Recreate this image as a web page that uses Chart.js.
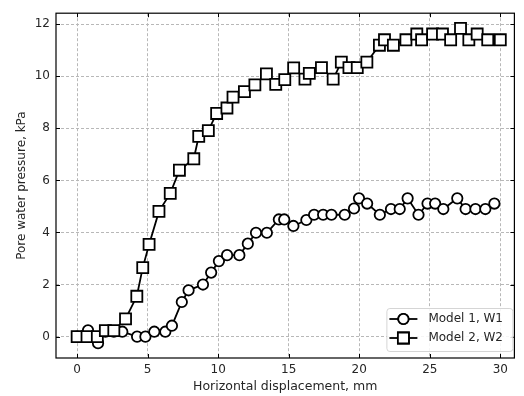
<!DOCTYPE html>
<html>
<head>
<meta charset="utf-8">
<script src="https://cdn.jsdelivr.net/npm/chart.js@4.4.0/dist/chart.umd.min.js"></script>
<style>
  html, body { margin: 0; padding: 0; background: #fff; }
  #wrap { width: 524px; height: 396px; }
</style>
</head>
<body>
<div id="wrap"><canvas id="chart" width="524" height="396"></canvas></div>
<script>
// Model 1, W1 (circles)
const w1X = [0, 0.77, 1.48, 2.0, 2.6, 3.2, 4.25, 4.84, 5.47, 6.25, 6.72, 7.42, 7.9, 8.92, 9.5, 10.05, 10.63, 11.5, 12.1, 12.68, 13.45, 14.3, 14.68, 15.33, 16.25, 16.8, 17.44, 18.03, 18.97, 19.63, 19.98, 20.56, 21.46, 22.25, 22.87, 23.43, 24.2, 24.84, 25.38, 25.96, 26.95, 27.54, 28.24, 28.94, 29.58];
const w1Y = [0, 0.24, -0.25, 0.19, 0.19, 0.19, 0, 0, 0.19, 0.19, 0.42, 1.33, 1.78, 2.0, 2.46, 2.9, 3.13, 3.13, 3.57, 3.99, 3.99, 4.5, 4.5, 4.25, 4.48, 4.68, 4.68, 4.68, 4.68, 4.92, 5.31, 5.11, 4.68, 4.9, 4.9, 5.31, 4.68, 5.11, 5.11, 4.9, 5.31, 4.9, 4.9, 4.9, 5.11];

// Model 2, W2 (squares)
const w2X = [0, 0.7, 1.43, 2.0, 2.6, 3.43, 4.23, 4.65, 5.1, 5.8, 6.6, 7.25, 8.27, 8.62, 9.3, 9.89, 10.62, 11.05, 11.86, 12.6, 13.42, 14.08, 14.72, 15.35, 16.15, 16.46, 17.32, 18.15, 18.73, 19.27, 19.86, 20.54, 21.43, 21.79, 22.42, 23.31, 24.08, 24.42, 25.2, 25.9, 26.48, 27.18, 27.77, 28.36, 29.11, 30.0];
const w2Y = [0, 0, 0, 0.23, 0.23, 0.68, 1.55, 2.65, 3.54, 4.81, 5.5, 6.39, 6.83, 7.69, 7.91, 8.57, 8.78, 9.2, 9.41, 9.67, 10.09, 9.69, 9.87, 10.32, 9.89, 10.11, 10.33, 9.89, 10.54, 10.33, 10.33, 10.54, 11.19, 11.4, 11.19, 11.4, 11.62, 11.4, 11.62, 11.62, 11.4, 11.84, 11.4, 11.62, 11.4, 11.4];

const xTicks = [0, 5, 10, 15, 20, 25, 30];
const yTicks = [0, 2, 4, 6, 8, 10, 12];

const seriesLabels = ['Model 1, W1', 'Model 2, W2'];
const textColor = '#262626';
const fontFamily = '"DejaVu Sans", sans-serif';

function toPoints(xs, ys) {
    return xs.map((x, i) => ({ x: x, y: ys[i] }));
}

// box around the plot and inward tick marks
const frame = {
    id: 'frame',
    afterDraw(chart) {
        const ctx = chart.ctx;
        const a = chart.chartArea;
        const xs = chart.scales.x, ys = chart.scales.y;
        ctx.save();
        ctx.strokeStyle = '#000';
        ctx.lineWidth = 1;
        xs.ticks.forEach(t => {
            const px = Math.round(xs.getPixelForValue(t.value)) + 0.5;
            ctx.beginPath();
            ctx.moveTo(px, a.bottom); ctx.lineTo(px, a.bottom - 4);
            ctx.moveTo(px, a.top); ctx.lineTo(px, a.top + 4);
            ctx.stroke();
        });
        ys.ticks.forEach(t => {
            const py = Math.round(ys.getPixelForValue(t.value)) + 0.5;
            ctx.beginPath();
            ctx.moveTo(a.left, py); ctx.lineTo(a.left + 4, py);
            ctx.moveTo(a.right, py); ctx.lineTo(a.right - 4, py);
            ctx.stroke();
        });
        ctx.lineWidth = 1.2;
        ctx.strokeRect(a.left, a.top, a.right - a.left, a.bottom - a.top);
        ctx.restore();
    }
};

// legend drawn inside the plot, lower right
const innerLegend = {
    id: 'innerLegend',
    afterDraw(chart) {
        const ctx = chart.ctx;
        const a = chart.chartArea;
        const w = 126, h = 43;
        const bx = a.right - w - 2, by = a.bottom - h - 7;
        ctx.save();
        ctx.fillStyle = 'rgba(255,255,255,0.85)';
        ctx.strokeStyle = '#d5d5d5';
        ctx.lineWidth = 1;
        ctx.beginPath();
        ctx.roundRect(bx + 0.5, by + 0.5, w, h, 3);
        ctx.fill();
        ctx.stroke();
        ctx.font = '12px ' + fontFamily;
        ctx.textBaseline = 'middle';
        chart.data.datasets.forEach((ds, i) => {
            const cy = by + 11 + i * 19;
            ctx.strokeStyle = '#000';
            ctx.lineWidth = 1.8;
            ctx.beginPath();
            ctx.moveTo(bx + 3, cy); ctx.lineTo(bx + 31, cy);
            ctx.stroke();
            ctx.fillStyle = '#fff';
            Chart.helpers.drawPoint(ctx, {
                pointStyle: ds.pointStyle,
                radius: ds.pointRadius,
                borderWidth: ds.pointBorderWidth
            }, bx + 17, cy);
            ctx.fill();
            ctx.stroke();
            ctx.fillStyle = textColor;
            ctx.fillText(ds.label, bx + 42, cy);
        });
        ctx.restore();
    }
};

const ctx = document.getElementById('chart').getContext('2d');
new Chart(ctx, {
    type: 'scatter',
    data: {
        datasets: [{
            label: seriesLabels[0],
            data: toPoints(w1X, w1Y),
            showLine: true,
            borderColor: '#000',
            borderWidth: 1.8,
            pointStyle: 'circle',
            pointRadius: 5.2,
            pointBorderWidth: 1.8,
            pointBackgroundColor: '#fff',
            pointBorderColor: '#000',
            order: 2
        }, {
            label: seriesLabels[1],
            data: toPoints(w2X, w2Y),
            showLine: true,
            borderColor: '#000',
            borderWidth: 1.8,
            pointStyle: 'rect',
            pointRadius: 7.8,
            pointBorderWidth: 1.8,
            pointBackgroundColor: '#fff',
            pointBorderColor: '#000',
            order: 1
        }]
    },
    options: {
        responsive: false,
        animation: false,
        layout: { padding: { top: 8, right: 7, left: 0, bottom: 0 } },
        plugins: {
            legend: { display: false },
            tooltip: { enabled: false }
        },
        scales: {
            x: {
                type: 'linear',
                min: -1.5,
                max: 31,
                afterBuildTicks: s => { s.ticks = xTicks.map(v => ({ value: v })); },
                afterFit: s => { s.height = 38; },
                grid: { color: '#b8b8b8', lineWidth: 1, drawTicks: false },
                border: { display: false, dash: [3, 2] },
                ticks: { color: textColor, font: { family: fontFamily, size: 12 }, padding: 5, maxRotation: 0 },
                title: {
                    display: true,
                    text: 'Horizontal displacement, mm',
                    color: textColor,
                    font: { family: fontFamily, size: 12.5 },
                    padding: { top: 0, bottom: 2 }
                }
            },
            y: {
                type: 'linear',
                min: -0.82,
                max: 12.42,
                afterBuildTicks: s => { s.ticks = yTicks.map(v => ({ value: v })); },
                afterFit: s => { s.width = 56; },
                grid: { color: '#b8b8b8', lineWidth: 1, drawTicks: false },
                border: { display: false, dash: [3, 2] },
                ticks: { color: textColor, font: { family: fontFamily, size: 12 }, padding: 6 },
                title: {
                    display: true,
                    text: 'Pore water pressure, kPa',
                    color: textColor,
                    font: { family: fontFamily, size: 12 },
                    padding: { top: 15, bottom: 0 }
                }
            }
        }
    },
    plugins: [frame, innerLegend]
});
</script>
</body>
</html>
